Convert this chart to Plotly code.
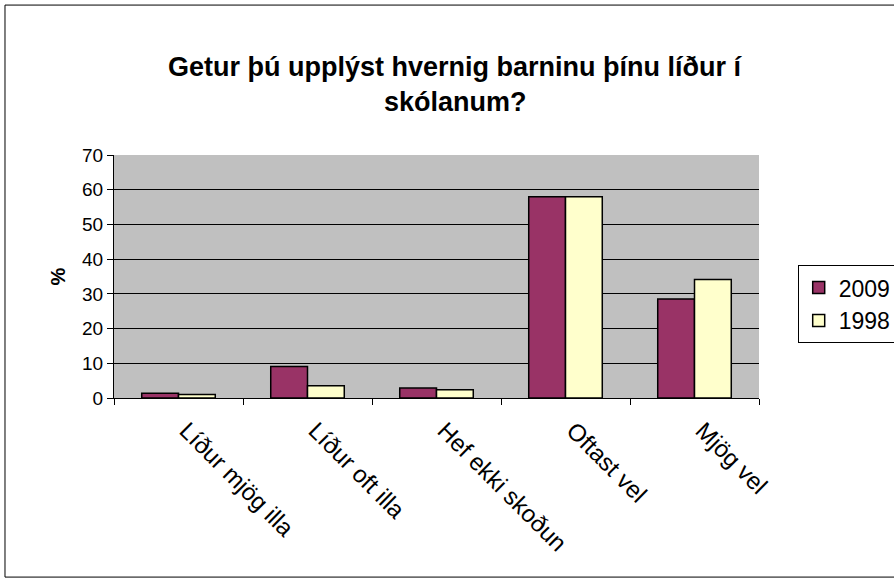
import plotly.graph_objects as go

# values (%)
categories = ["Líður mjög illa", "Líður oft illa", "Hef ekki skoðun", "Oftast vel", "Mjög vel"]
values_2009 = [1.4, 9.1, 2.9, 58.0, 28.5]
values_1998 = [1.0, 3.5, 2.4, 58.0, 34.1]
y_ticks = [0, 10, 20, 30, 40, 50, 60, 70]

font_family = "Arial, Liberation Sans, sans-serif"

fig = go.Figure()
fig.add_trace(go.Bar(
    x=categories, y=values_2009, name="2009",
    marker=dict(color="#993366", line=dict(color="black", width=1.5)),
))
fig.add_trace(go.Bar(
    x=categories, y=values_1998, name="1998",
    marker=dict(color="#FFFFCC", line=dict(color="black", width=1.5)),
))

fig.update_layout(
    width=894, height=581,
    margin=dict(l=114, r=135, t=155, b=183, autoexpand=False),
    paper_bgcolor="white",
    plot_bgcolor="#C0C0C0",
    barmode="group",
    bargap=0.43,
    bargroupgap=0,
    font=dict(family=font_family, size=19, color="black"),
    showlegend=True,
    legend=dict(
        x=1.060, y=0.547, xanchor="left", yanchor="top",
        bgcolor="white", bordercolor="black", borderwidth=1,
        font=dict(size=23), tracegroupgap=0,
    ),
    xaxis=dict(
        tickangle=45, tickson="boundaries", ticks="outside", ticklen=6,
        tickcolor="black", showline=True, linecolor="black", linewidth=1,
        showgrid=False, automargin=False, tickfont=dict(size=24),
        ticklabelstandoff=8, ticklabelshift=8,
    ),
    yaxis=dict(
        range=[0, 70], tickvals=y_ticks, ticks="outside", ticklen=6,
        tickcolor="black", showline=True, linecolor="black", linewidth=1,
        showgrid=True, gridcolor="black", gridwidth=1, zeroline=False,
        automargin=False, tickfont=dict(size=19),
    ),
    annotations=[
        dict(text="<b>Getur þú upplýst hvernig barninu þínu líður í</b>",
             x=0.529, y=1.432, xref="paper", yref="paper", showarrow=False,
             font=dict(size=27)),
        dict(text="<b>skólanum?</b>",
             x=0.529, y=1.288, xref="paper", yref="paper", showarrow=False,
             font=dict(size=27)),
        dict(text="<b>%</b>", textangle=-90,
             x=-0.107, y=0.5, xref="paper", yref="paper", showarrow=False,
             font=dict(size=20)),
    ],
    shapes=[
        dict(type="rect", xref="paper", yref="paper",
             x0=-0.169, x1=1.25, y0=-0.737, y1=1.617,
             line=dict(color="black", width=1)),
    ],
)

# the page's default body margin would shift the whole figure by 8px
fig.write_html("out.html", config={"displayModeBar": False},
               post_script="document.body.style.margin='0';")
